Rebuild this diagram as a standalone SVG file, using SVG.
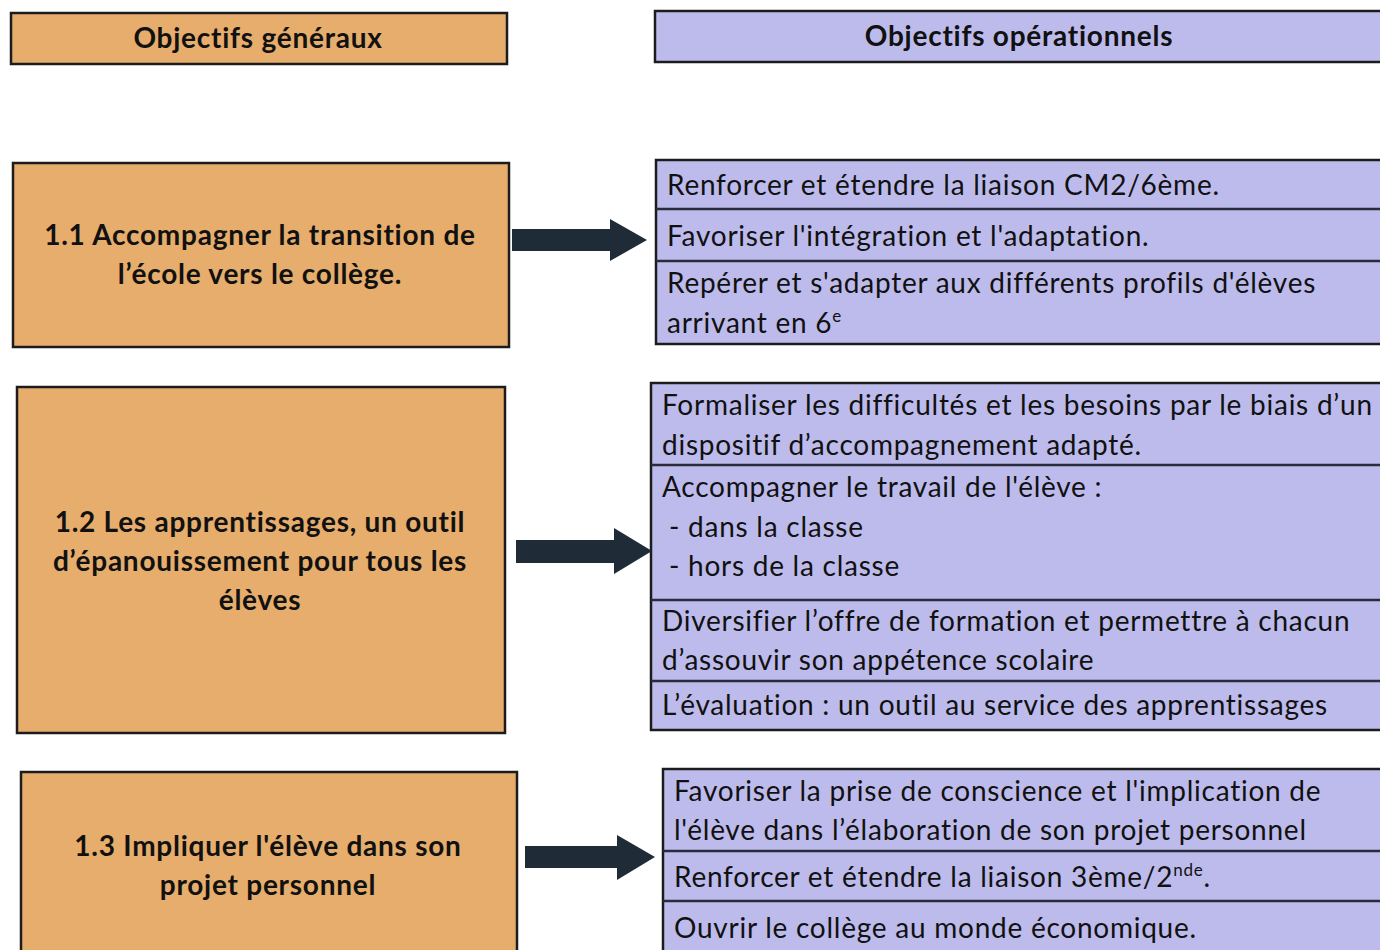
<svg xmlns="http://www.w3.org/2000/svg" width="1380" height="950" viewBox="0 0 1380 950">
<style>
.gen{fill:#E6AD6C;stroke:#1c1c1c;stroke-width:2.5}
.op{fill:#BDBBEC;stroke:#1c1c1c;stroke-width:2.5}
.div{stroke:#2a2a3a;stroke-width:2.5}
.tb{font-family:Lato,"Liberation Sans",sans-serif;font-weight:bold;font-size:28px;letter-spacing:0.75px;fill:#111;text-anchor:middle}
.tr{font-family:Lato,"Liberation Sans",sans-serif;font-size:28px;letter-spacing:0.75px;fill:#111}
.arr{fill:#1f2b36}
</style>
<rect width="1380" height="950" fill="#ffffff"/>
<g id="header-generaux">
<rect class="gen" x="11" y="13" width="496" height="51"/>
<text class="tb" x="258" y="48">Objectifs généraux</text>
</g>
<g id="header-operationnels">
<rect class="op" x="655" y="11" width="735" height="51"/>
<text class="tb" x="1019" y="46">Objectifs opérationnels</text>
</g>
<g id="gen-1-1">
<rect class="gen" x="13" y="163" width="496" height="184"/>
<text class="tb" x="260" y="245">1.1 Accompagner la transition de</text>
<text class="tb" x="260" y="284">l’école vers le collège.</text>
</g>
<g id="gen-1-2">
<rect class="gen" x="17" y="387" width="488" height="346"/>
<text class="tb" x="260" y="532">1.2 Les apprentissages, un outil</text>
<text class="tb" x="260" y="571">d’épanouissement pour tous les</text>
<text class="tb" x="260" y="610">élèves</text>
</g>
<g id="gen-1-3">
<rect class="gen" x="21" y="772" width="496" height="190"/>
<text class="tb" x="268" y="856">1.3 Impliquer l'élève dans son</text>
<text class="tb" x="268" y="895">projet personnel</text>
</g>
<g id="op-1-1">
<rect class="op" x="656" y="160" width="734" height="184"/>
<line class="div" x1="656" y1="209" x2="1380" y2="209"/>
<line class="div" x1="656" y1="261" x2="1380" y2="261"/>
<text class="tr" x="667" y="195">Renforcer et étendre la liaison CM2/6ème.</text>
<text class="tr" x="667" y="246">Favoriser l'intégration et l'adaptation.</text>
<text class="tr" x="667" y="293">Repérer et s'adapter aux différents profils d'élèves</text>
<text class="tr" x="667" y="333">arrivant en 6<tspan font-size="17" dy="-11">e</tspan></text>
</g>
<g id="op-1-2">
<rect class="op" x="651" y="383" width="739" height="347"/>
<line class="div" x1="651" y1="465" x2="1380" y2="465"/>
<line class="div" x1="651" y1="600" x2="1380" y2="600"/>
<line class="div" x1="651" y1="681" x2="1380" y2="681"/>
<text class="tr" x="662" y="415">Formaliser les difficultés et les besoins par le biais d’un</text>
<text class="tr" x="662" y="455">dispositif d’accompagnement adapté.</text>
<text class="tr" x="662" y="497">Accompagner le travail de l'élève :</text>
<text class="tr" x="669" y="537">- dans la classe</text>
<text class="tr" x="669" y="576">- hors de la classe</text>
<text class="tr" x="662" y="631">Diversifier l’offre de formation et permettre à chacun</text>
<text class="tr" x="662" y="670">d’assouvir son appétence scolaire</text>
<text class="tr" x="662" y="715">L’évaluation : un outil au service des apprentissages</text>
</g>
<g id="op-1-3">
<rect class="op" x="663" y="769" width="727" height="200"/>
<line class="div" x1="663" y1="851" x2="1380" y2="851"/>
<line class="div" x1="663" y1="901" x2="1380" y2="901"/>
<text class="tr" x="674" y="801">Favoriser la prise de conscience et l'implication de</text>
<text class="tr" x="674" y="840">l'élève dans l’élaboration de son projet personnel</text>
<text class="tr" x="674" y="887">Renforcer et étendre la liaison 3ème/2<tspan font-size="17" dy="-11">nde</tspan><tspan dy="11">.</tspan></text>
<text class="tr" x="674" y="938">Ouvrir le collège au monde économique.</text>
</g>
<g id="connectors">
<polygon class="arr" points="512,229 610,229 610,219 647,240 610,261 610,251 512,251"/>
<polygon class="arr" points="516,540 614,540 614,528 652,551 614,574 614,563 516,563"/>
<polygon class="arr" points="525,846 617,846 617,835 655,857 617,880 617,868 525,868"/>
</g>
</svg>
